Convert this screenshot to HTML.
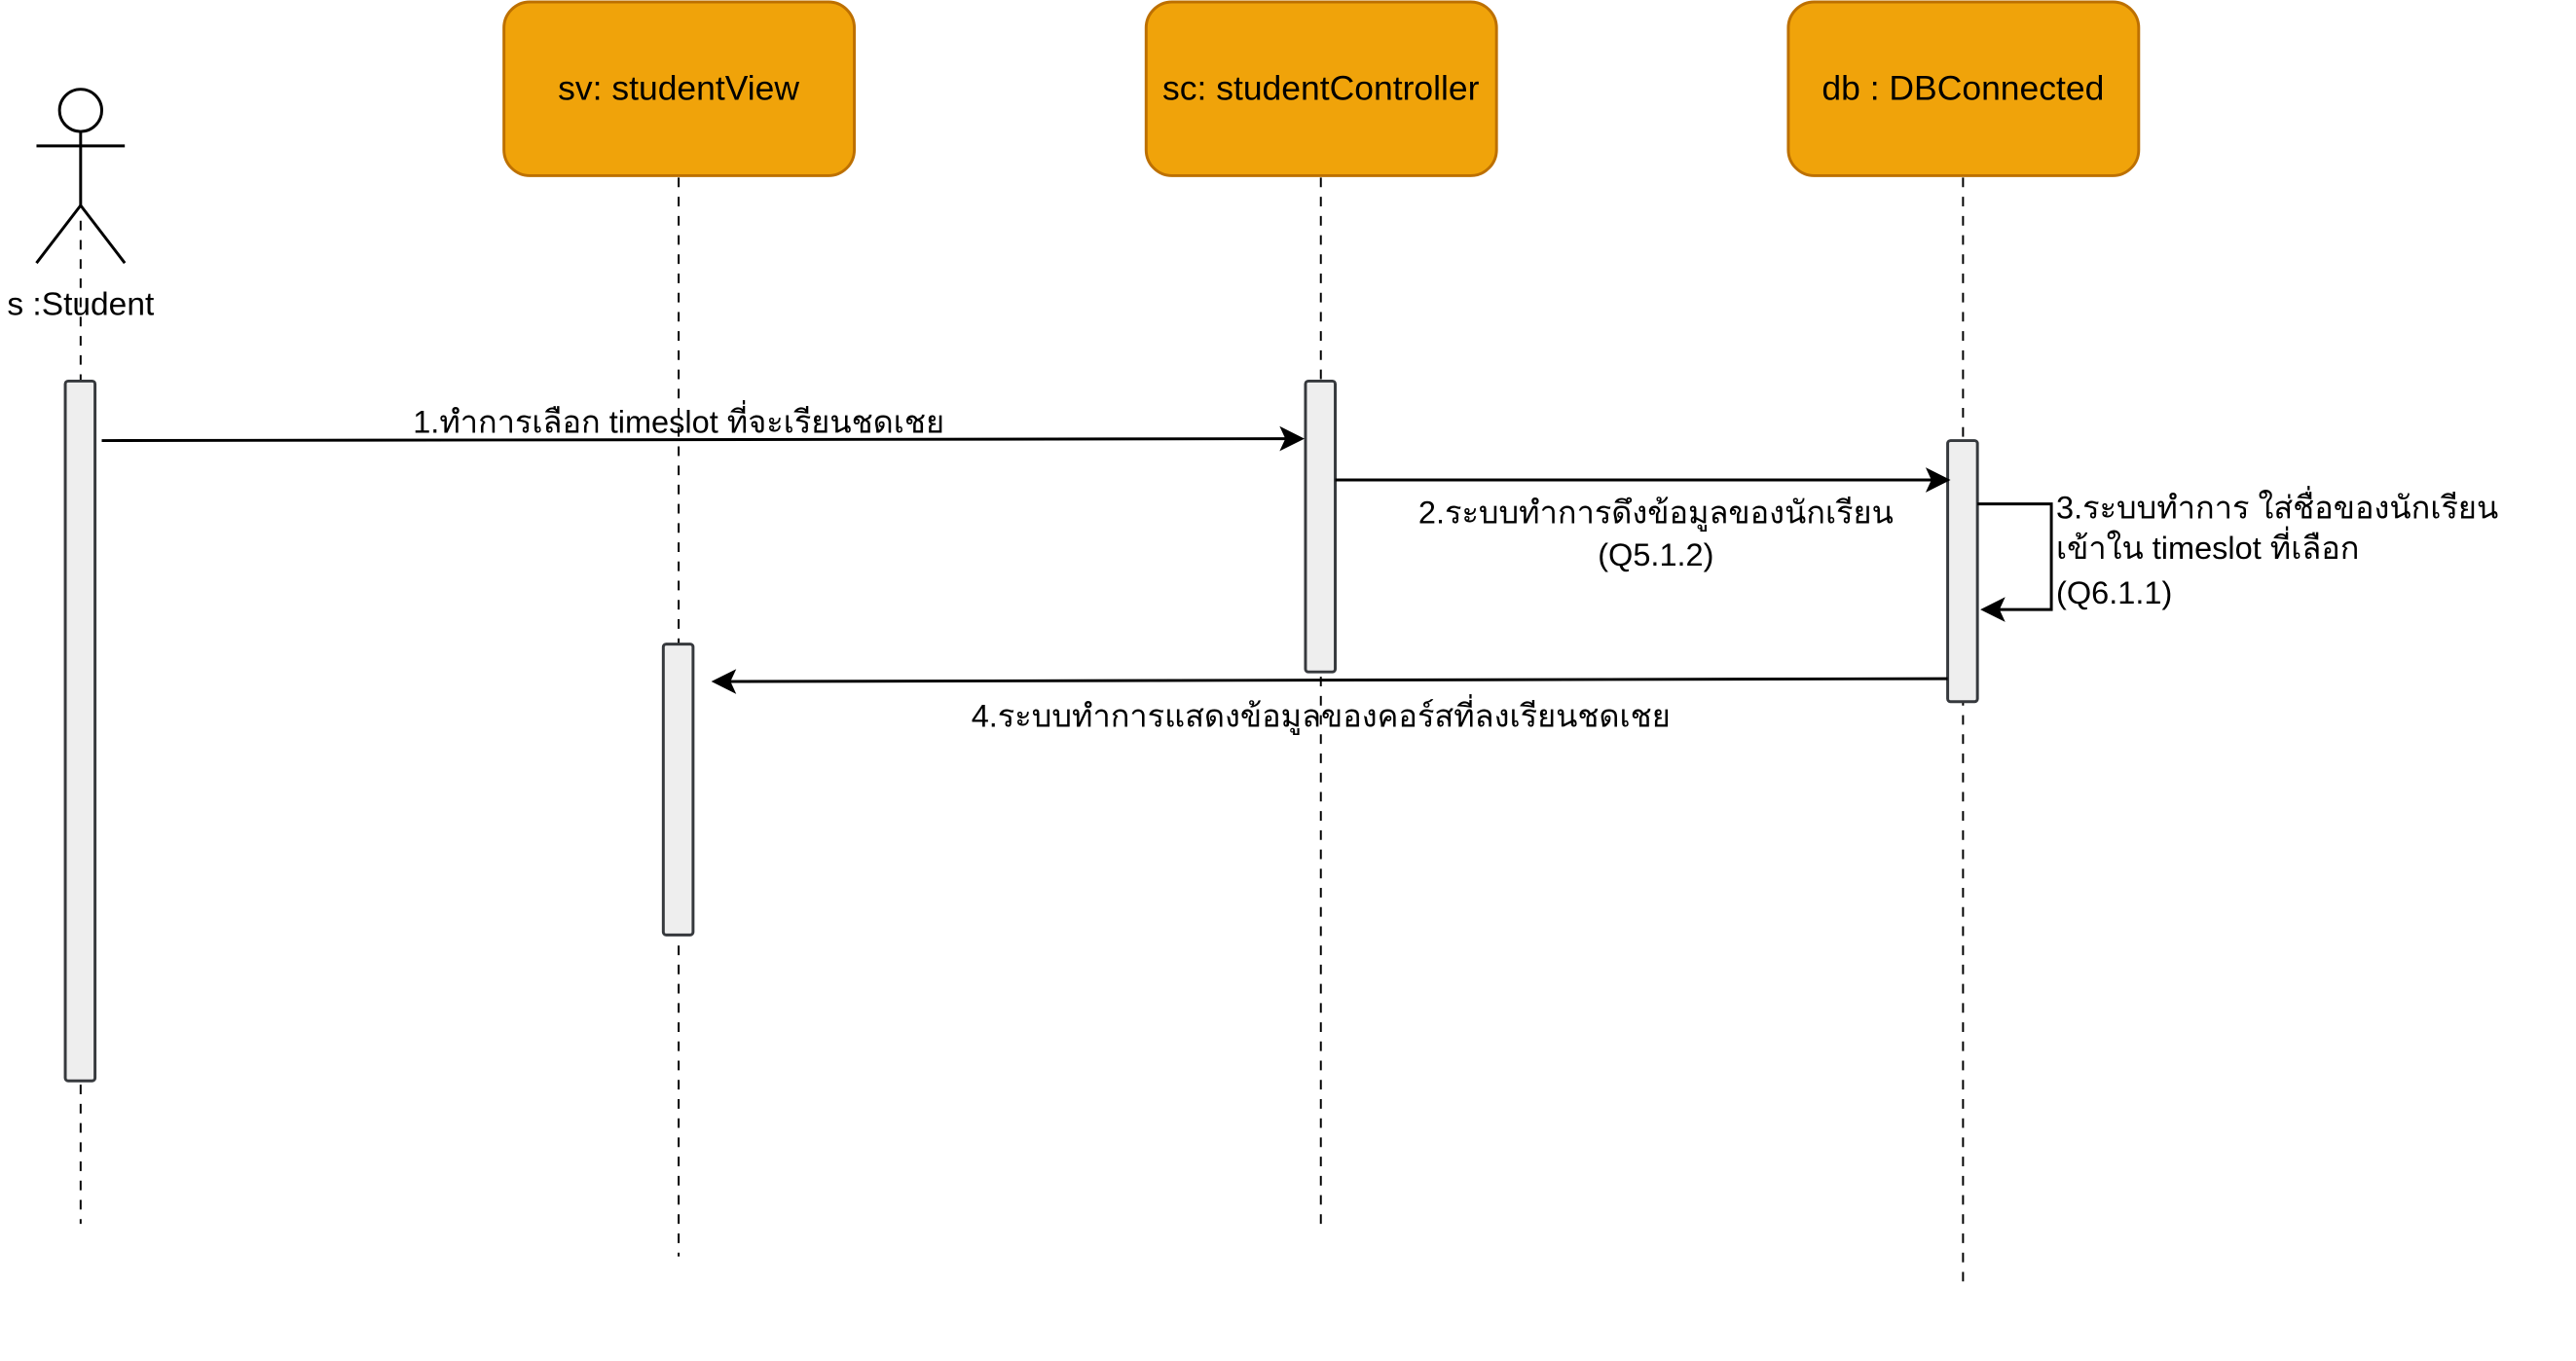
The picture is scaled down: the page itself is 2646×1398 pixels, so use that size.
<!DOCTYPE html>
<html><head><meta charset="utf-8"><style>
html,body{margin:0;padding:0;background:#fff;width:2646px;height:1398px;overflow:hidden}
svg text{font-family:"Liberation Sans","DejaVu Sans",sans-serif;fill:#000}
</style></head><body>
<svg width="2646" height="1398" viewBox="0 0 2646 1398" xmlns="http://www.w3.org/2000/svg">
<g transform="scale(0.986)">
<g stroke="#000" stroke-width="2" stroke-dasharray="10,10" fill="none">
<line x1="84" y1="230" x2="84" y2="1275"/>
<line x1="707" y1="185" x2="707" y2="1309"/>
<line x1="1376" y1="185" x2="1376" y2="1275"/>
<line x1="2045" y1="185" x2="2045" y2="1338"/>
</g>
<g fill="#f0a30a" stroke="#bd7000" stroke-width="3">
<rect x="525" y="2" width="365" height="181" rx="27"/>
<rect x="1194" y="2" width="365" height="181" rx="27"/>
<rect x="1863" y="2" width="365" height="181" rx="27"/>
</g>
<g font-size="36" text-anchor="middle">
<text x="707" y="104">sv: studentView</text>
<text x="1376" y="104">sc: studentController</text>
<text x="2045" y="104">db : DBConnected</text>
</g>
<g stroke="#000" stroke-width="3" fill="#fff">
<circle cx="84" cy="115" r="22"/>
<line x1="84" y1="137" x2="84" y2="214"/>
<line x1="38" y1="152" x2="130" y2="152"/>
<polyline points="38,274 84,214 130,274" fill="none"/>
</g>
<text x="84" y="328" font-size="34" text-anchor="middle">s :Student</text>
<g fill="#eeeeee" stroke="#36393d" stroke-width="3">
<rect x="68" y="397" width="31" height="729" rx="3"/>
<rect x="1360" y="397" width="31" height="303" rx="3"/>
<rect x="2029" y="459" width="31" height="272" rx="3"/>
<rect x="691" y="671" width="31" height="303" rx="3"/>
</g>
<g stroke="#000" stroke-width="3" fill="none">
<line x1="106" y1="459" x2="1345" y2="457"/>
<line x1="1391" y1="500" x2="2018" y2="500"/>
<polyline points="2060,525 2137,525 2137,635 2075,635"/>
<line x1="2029" y1="707" x2="755" y2="710"/>
</g>
<g fill="#000">
<polygon points="1359,457 1333,444 1339,457 1333,470"/>
<polygon points="2032,500 2006,487 2012,500 2006,513"/>
<polygon points="2063,635 2089,622 2083,635 2089,648"/>
<polygon points="741,710 767,697 761,710 767,723"/>
</g>
<g font-size="33">
<text x="707" y="451" text-anchor="middle">1.ทำการเลือก timeslot ที่จะเรียนชดเชย</text>
<text x="1725" y="545" text-anchor="middle">2.ระบบทำการดึงข้อมูลของนักเรียน</text>
<text x="1725" y="589" text-anchor="middle">(Q5.1.2)</text>
<text x="2142" y="540">3.ระบบทำการ ใส่ชื่อของนักเรียน</text>
<text x="2142" y="582">เข้าใน timeslot ที่เลือก</text>
<text x="2142" y="629">(Q6.1.1)</text>
<text x="1376" y="757" text-anchor="middle">4.ระบบทำการแสดงข้อมูลของคอร์สที่ลงเรียนชดเชย</text>
</g>
</g>
</svg>
</body></html>
